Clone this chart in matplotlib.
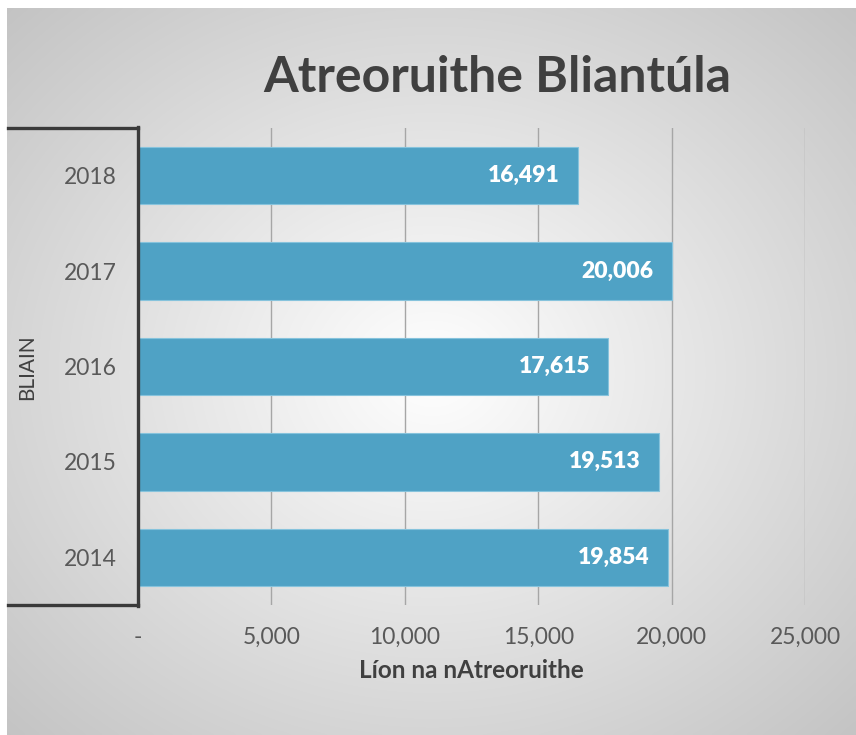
import numpy as np
import matplotlib
matplotlib.use('Agg')
import matplotlib.pyplot as plt
from matplotlib.lines import Line2D
from matplotlib.ticker import FuncFormatter

plt.rcParams['font.family'] = ['Lato', 'DejaVu Sans']

years = ['2014', '2015', '2016', '2017', '2018']
values = [19854, 19513, 17615, 20006, 16491]
xticks = [0, 5000, 10000, 15000, 20000, 25000]

W, H = 856, 735
fig = plt.figure(figsize=(W / 100, H / 100), dpi=100)

# radial grey background of the chart box
bg = fig.add_axes([7 / W, 0, 1 - 7 / W, 1 - 8 / H])
bg.set_axis_off()
yy, xx = np.mgrid[0:300, 0:350]
cx, cy = 175, 150
r = np.sqrt(((xx - cx) / 175.0) ** 2 + ((yy - cy) / 150.0) ** 2)
shade = np.clip(255 - 42 * r, 0, 255) / 255.0
img = np.dstack([shade, shade, shade])
bg.imshow(img, aspect='auto', extent=[0, 1, 0, 1], interpolation='bicubic')
bg.set_xlim(0, 1)
bg.set_ylim(0, 1)

left, right = 138 / W, 805 / W
bottom, top = 1 - 605 / H, 1 - 128 / H
ax = fig.add_axes([left, bottom, right - left, top - bottom])
ax.patch.set_alpha(0)

pos = np.arange(len(years))
ax.barh(pos, values, height=0.6, color='#4fa2c5', edgecolor='#86c3dc', linewidth=0.8, zorder=3)
for p, v in zip(pos, values):
    ax.annotate(f'{v:,}', (v, p), xytext=(-13, 0), textcoords='offset points',
                ha='right', va='center', color='white', fontsize=16.5, fontweight='heavy', zorder=4)

ax.set_xlim(0, 25000)
ax.set_ylim(-0.5, 4.5)
ax.set_xticks(xticks)
ax.xaxis.set_major_formatter(FuncFormatter(lambda x, _: '-' if x == 0 else f'{int(x):,}'))
ax.set_yticks(pos)
ax.set_yticklabels(years)
ax.tick_params(axis='both', length=0, labelsize=16.5, colors='#595959')
ax.tick_params(axis='y', pad=15)
ax.tick_params(axis='x', pad=16)
for s in ax.spines.values():
    s.set_visible(False)
ax.grid(axis='x', color='#a6a6a6', linewidth=1, zorder=0)
ax.set_axisbelow(True)

ax.set_xlabel('Líon na nAtreoruithe', fontsize=17.5, fontweight='bold', color='#404040', labelpad=8)

# bracket around the category axis
lc = '#3a3a3a'
fig.add_artist(Line2D([8 / W, left], [top, top], color=lc, linewidth=2.4))
fig.add_artist(Line2D([8 / W, left], [bottom, bottom], color=lc, linewidth=2.4))
fig.add_artist(Line2D([left, left], [bottom - 1 / H, top + 1 / H], color=lc, linewidth=2.4))

fig.text(27 / W, 1 - 367 / H, 'BLIAIN', rotation=90, ha='center', va='center',
         fontsize=15, color='#404040')
fig.text(497 / W, 1 - 78 / H, 'Atreoruithe Bliantúla', ha='center', va='center',
         fontsize=36, fontweight='bold', color='#404040')

fig.savefig('out.png', dpi=100, facecolor='white')
